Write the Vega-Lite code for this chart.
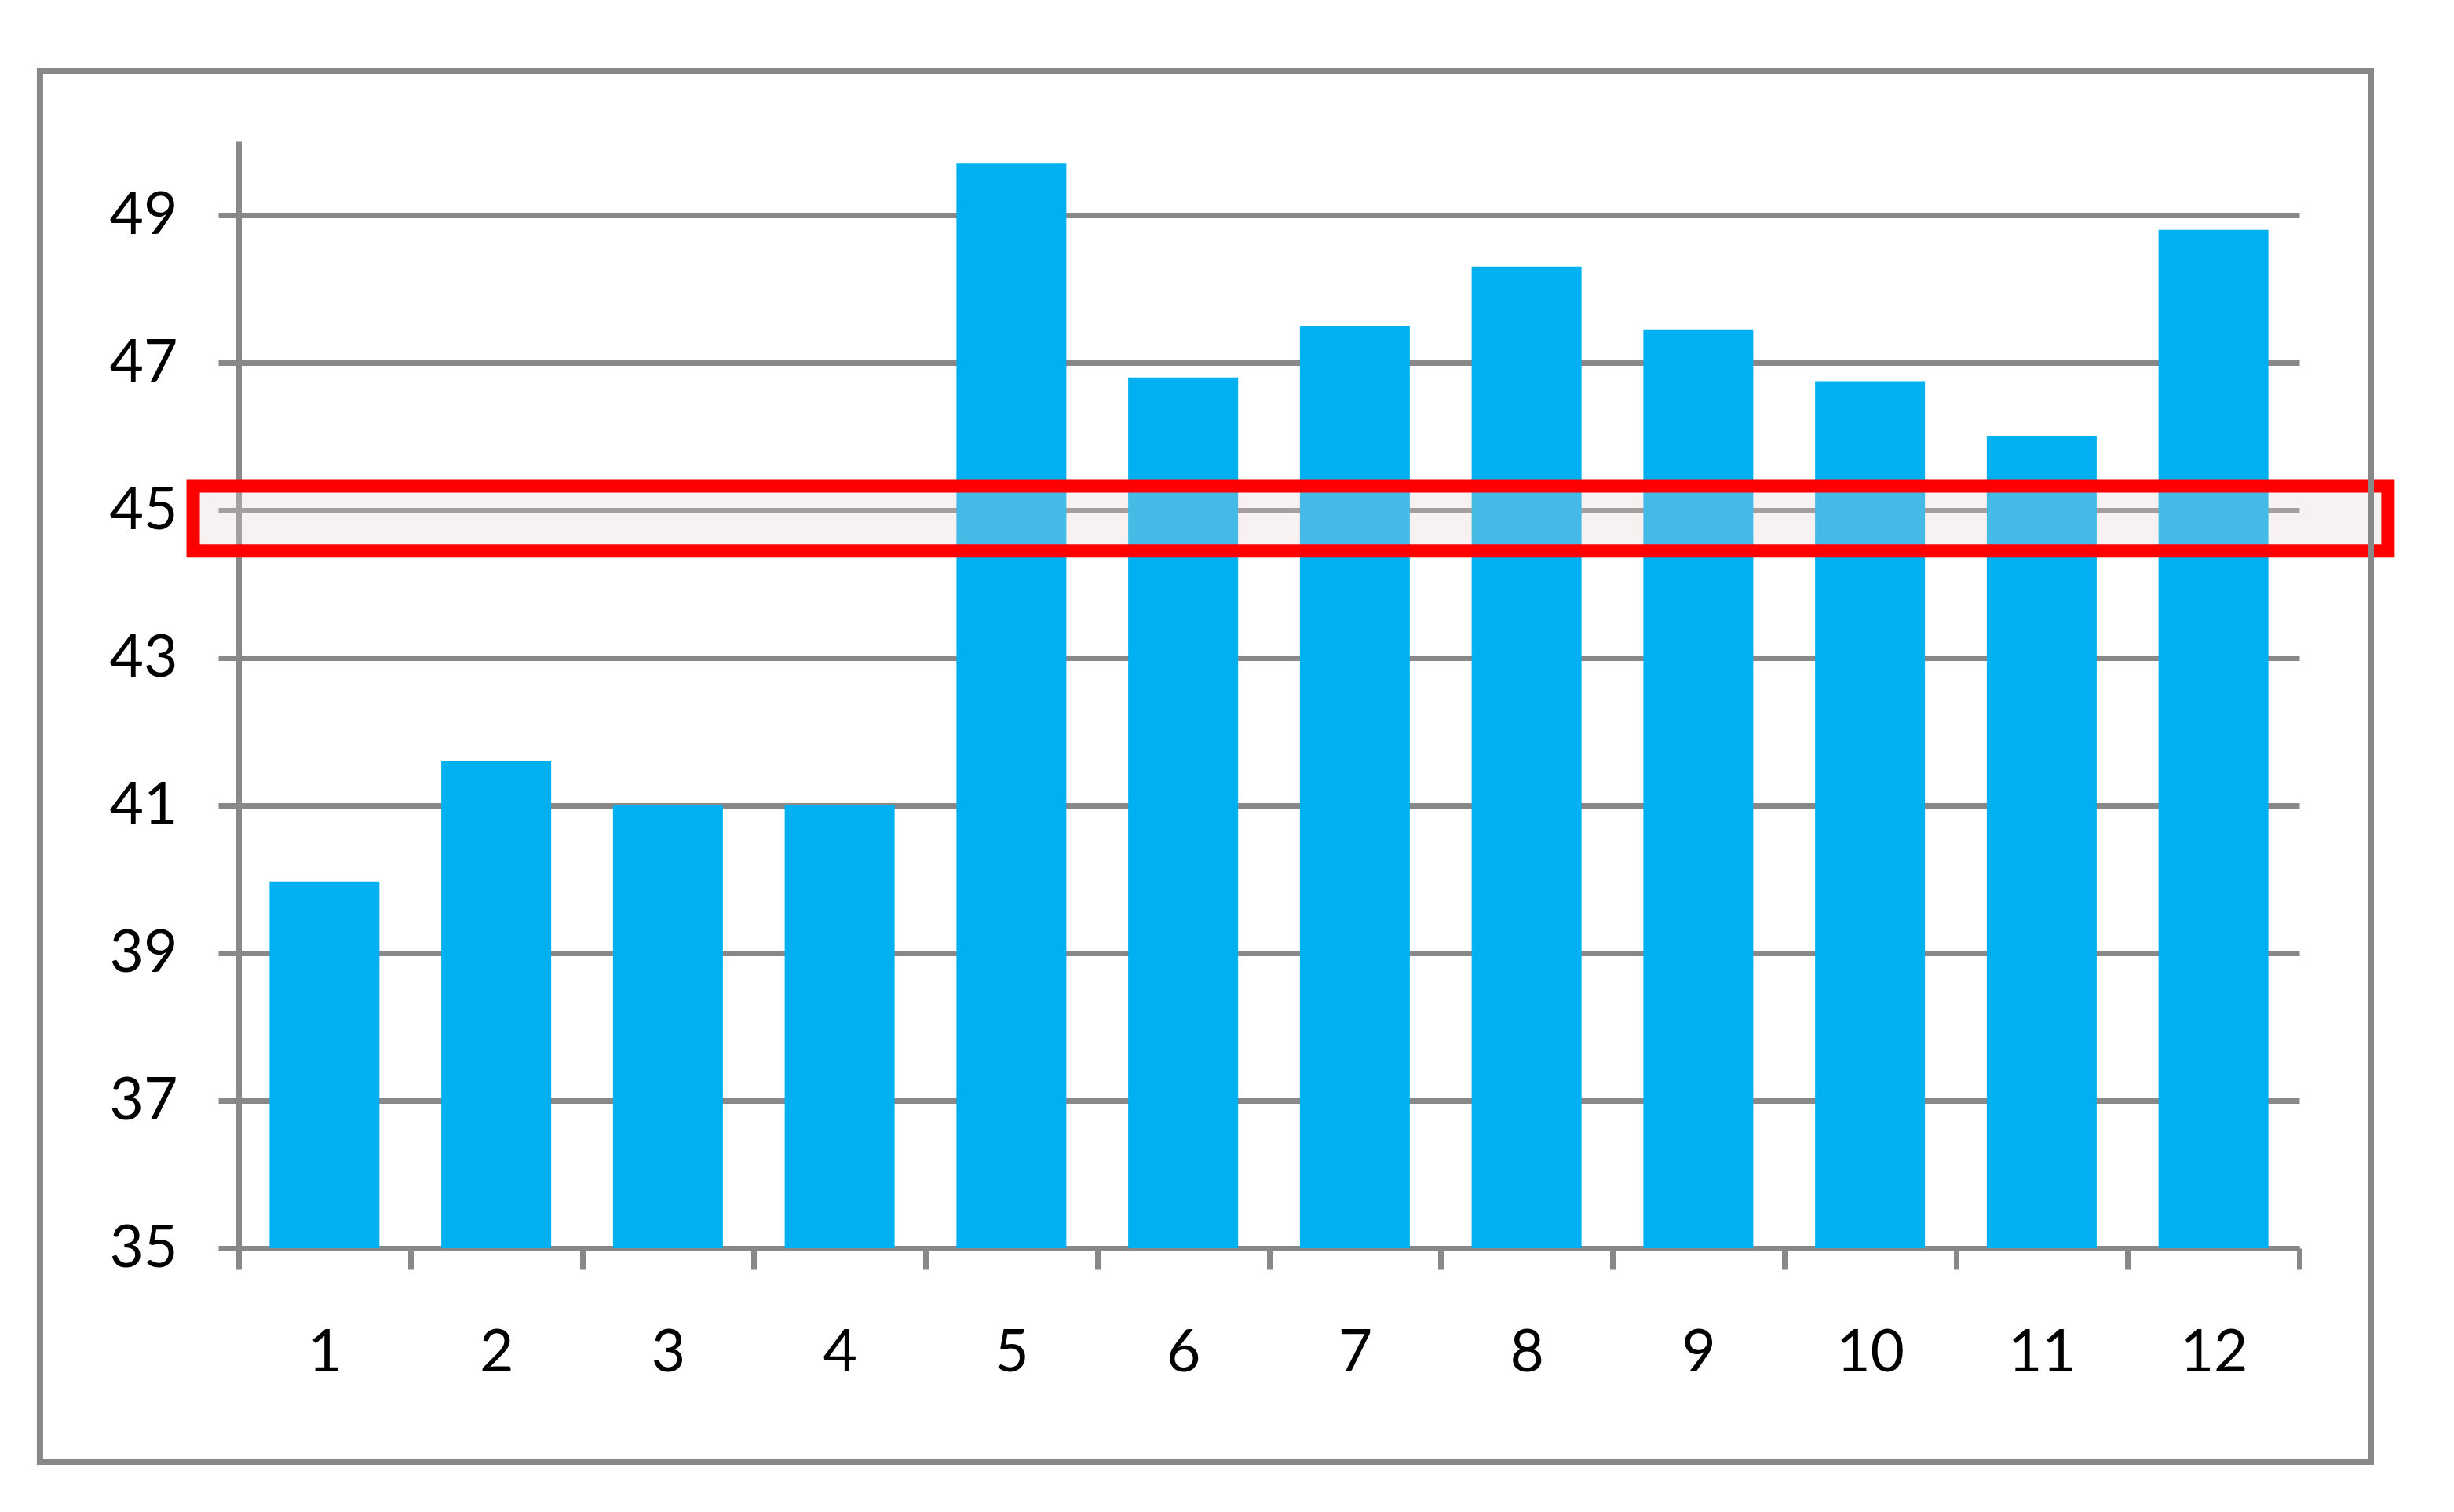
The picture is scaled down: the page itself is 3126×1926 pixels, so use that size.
{
  "$schema": "https://vega.github.io/schema/vega-lite/v6.json",
  "width": 2625,
  "height": 1410,
  "autosize": {"type": "none"},
  "padding": {"left": 304, "top": 180, "right": 197, "bottom": 336},
  "background": "white",
  "config": {
    "view": {"stroke": null},
    "axis": {
      "labelFont": "Lato",
      "labelFontSize": 75,
      "labelColor": "#000000",
      "domainColor": "#888888",
      "domainWidth": 7,
      "tickColor": "#888888",
      "tickWidth": 7,
      "gridColor": "#888888",
      "gridWidth": 7,
      "title": null
    }
  },
  "resolve": {"scale": {"x": "independent"}, "axis": {"x": "independent"}},
  "layer": [
    {
      "data": {
        "values": [
          {"month": "1", "value": 39.97},
          {"month": "2", "value": 41.6},
          {"month": "3", "value": 41.0},
          {"month": "4", "value": 41.0},
          {"month": "5", "value": 49.7},
          {"month": "6", "value": 46.8},
          {"month": "7", "value": 47.5},
          {"month": "8", "value": 48.3},
          {"month": "9", "value": 47.45},
          {"month": "10", "value": 46.75},
          {"month": "11", "value": 46.0},
          {"month": "12", "value": 48.8}
        ]
      },
      "mark": {"type": "bar", "color": "#00B0F0", "width": {"band": 0.64}},
      "encoding": {
        "x": {
          "field": "month",
          "type": "ordinal",
          "sort": null,
          "scale": {"paddingInner": 0, "paddingOuter": 0},
          "axis": {
            "labelAngle": 0,
            "tickBand": "extent",
            "tickSize": 27,
            "labelPadding": 70,
            "grid": false
          }
        },
        "y": {
          "field": "value",
          "type": "quantitative",
          "scale": {"domain": [35, 50], "nice": false, "zero": false},
          "axis": {
            "values": [35, 37, 39, 41, 43, 45, 47, 49],
            "format": "d",
            "grid": true,
            "tickSize": 26,
            "labelPadding": 52
          }
        },
        "y2": {"datum": 35}
      }
    },
    {
      "data": {"values": [{"lo": 44.45, "hi": 45.33}]},
      "mark": {
        "type": "rect",
        "fill": "#e8d0d0",
        "fillOpacity": 0.3,
        "stroke": "#FF0000",
        "strokeWidth": 17,
        "strokeOpacity": 1
      },
      "encoding": {
        "x": {"datum": -0.265, "type": "quantitative", "scale": {"domain": [0, 12], "nice": false, "zero": false}, "axis": null},
        "x2": {"datum": 12.516},
        "y": {"field": "hi", "type": "quantitative"},
        "y2": {"field": "lo"}
      }
    },
    {
      "data": {"values": [{"frame": 1}]},
      "mark": {
        "type": "rect",
        "fill": null,
        "fillOpacity": 0,
        "stroke": "#888888",
        "strokeWidth": 8
      },
      "encoding": {
        "x": {"datum": -1.157, "type": "quantitative", "scale": {"domain": [0, 12], "nice": false, "zero": false}, "axis": null},
        "x2": {"datum": 12.416},
        "y": {"datum": 50.957, "type": "quantitative"},
        "y2": {"datum": 32.106}
      }
    }
  ]
}
